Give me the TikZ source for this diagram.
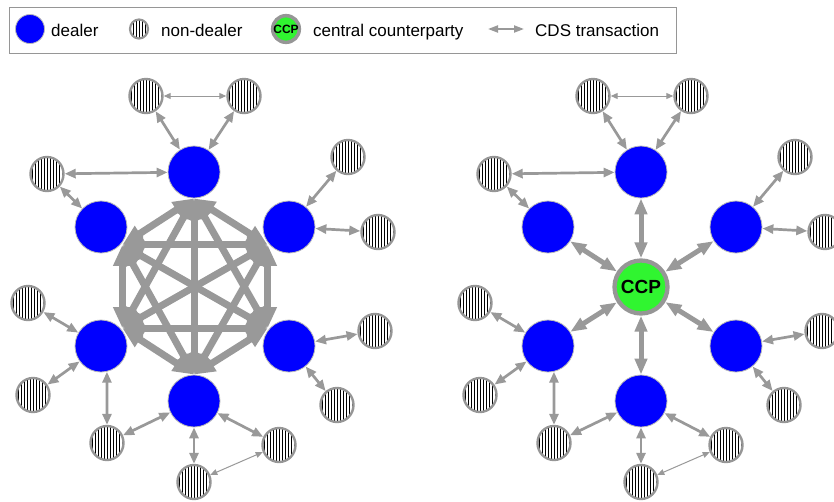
\documentclass[tikz,border=0pt]{standalone}
\usepackage{fontspec}
\setmainfont{Liberation Sans}
\usetikzlibrary{arrows.meta,shapes.geometric,calc}
\pgfdeclarelayer{bg}
\pgfdeclarelayer{paper}
\pgfsetlayers{paper,bg,main}
\definecolor{edgegray}{RGB}{153,153,153}
\definecolor{ringgray}{RGB}{150,150,150}
\definecolor{dealerblue}{RGB}{0,0,255}
\definecolor{ccpgreen}{RGB}{48,245,48}
\tikzset{
  dealer/.style={circle, inner sep=0pt, minimum size=52pt, fill=dealerblue, draw=gray!55, line width=0.8pt},
  nd/.style={ellipse, inner sep=0pt, minimum width=33pt, minimum height=34pt, fill=white, draw=ringgray, line width=2.4pt,
    path picture={\foreach \s in {-21,-18,...,21}
      \draw[black, line width=0.9pt] ($(path picture bounding box.center)+(\s,-25)$) -- ($(path picture bounding box.center)+(\s,25)$);}},
  ccp/.style={circle, inner sep=0pt, minimum size=53pt, fill=ccpgreen, draw=ringgray, line width=4.3pt, text=black,
    font=\bfseries\fontsize{19}{22}\selectfont},
  lbl/.style={anchor=base west, inner sep=0pt, font=\fontsize{17}{20}\selectfont, text=black},
  thinarr/.style={draw=edgegray, line width=1pt, {Triangle[length=7pt,width=6pt]}-{Triangle[length=7pt,width=6pt]}},
  medarr/.style={draw=edgegray, line width=2.7pt, {Triangle[length=11pt,width=9pt]}-{Triangle[length=11pt,width=9pt]}},
  ccparr/.style={draw=edgegray, line width=5pt, {Triangle[length=16pt,width=12pt]}-{Triangle[length=16pt,width=12pt]}},
  bigarr/.style={draw=edgegray, line width=7pt, {Triangle[length=21pt,width=17pt]}-{Triangle[length=21pt,width=17pt]}},
  legarr/.style={draw=edgegray, line width=2pt, {Triangle[length=10pt,width=7pt]}-{Triangle[length=10pt,width=7pt]}},
}
\newcommand\mynet[2]{%
  \begin{scope}[xshift=#2]
    \node[dealer] (#1D1) at (194,172) {};
    \node[dealer] (#1D2) at (101,227) {};
    \node[dealer] (#1D3) at (289,227) {};
    \node[dealer] (#1D4) at (101,346) {};
    \node[dealer] (#1D5) at (289,346) {};
    \node[dealer] (#1D6) at (194,401) {};
    \node[nd] (#1a) at (146,96) {};
    \node[nd] (#1b) at (244,96) {};
    \node[nd] (#1c) at (47,174) {};
    \node[nd] (#1d) at (348,157) {};
    \node[nd] (#1e) at (378,232) {};
    \node[nd] (#1f) at (28,303) {};
    \node[nd] (#1g) at (33,395) {};
    \node[nd] (#1h) at (375,331) {};
    \node[nd] (#1i) at (337,405) {};
    \node[nd] (#1j) at (107,443) {};
    \node[nd] (#1k) at (279,445) {};
    \node[nd] (#1l) at (194,482) {};
  \end{scope}
  \begin{pgfonlayer}{bg}
    \draw[thinarr] (#1a) -- (#1b);
    \draw[thinarr] (#1l) -- (#1k);
    \draw[medarr] (#1a) -- (#1D1);
    \draw[medarr] (#1b) -- (#1D1);
    \draw[medarr] (#1c) -- (#1D1);
    \draw[medarr] (#1c) -- (#1D2);
    \draw[medarr] (#1d) -- (#1D3);
    \draw[medarr] (#1e) -- (#1D3);
    \draw[medarr] (#1f) -- (#1D4);
    \draw[medarr] (#1g) -- (#1D4);
    \draw[medarr] (#1h) -- (#1D5);
    \draw[medarr] (#1i) -- (#1D5);
    \draw[medarr] (#1j.north) -- (#1D4.-77);
    \draw[medarr] (#1j) -- (#1D6);
    \draw[medarr] (#1l) -- (#1D6);
    \draw[medarr] (#1k) -- (#1D6);
  \end{pgfonlayer}
}
\begin{document}
\begin{tikzpicture}[x=1pt, y=-1pt]
  \useasboundingbox (0,0) rectangle (834,501);
  \begin{pgfonlayer}{paper}
    \fill[white] (0,0) rectangle (834,501);
  \end{pgfonlayer}
  % legend
  \draw[draw=ringgray, line width=1pt] (9,7) rectangle (676,53);
  \node[dealer, minimum size=29pt] (ldealer) at (30,29) {};
  \node[lbl] (tdealer) at (51,36) {dealer};
  \node[nd, minimum width=18pt, minimum height=19pt, line width=2.2pt] (lnd) at (139,29) {};
  \node[lbl] (tnd) at (161,36) {non-dealer};
  \node[ccp, minimum size=26.5pt, line width=3.5pt, font=\bfseries\fontsize{12}{13}\selectfont] (lccp) at (286,29) {CCP};
  \node[lbl] (tccp) at (313,36) {central counterparty};
  \coordinate (la1) at (488,29);
  \coordinate (la2) at (524,29);
  \draw[legarr] (la1) -- (la2);
  \node[lbl] (tcds) at (535,36) {CDS transaction};
  % left network
  \mynet{L}{0pt}
  \coordinate (P1) at (LD1.-90);
  \coordinate (P2) at ($(LD2.-40)+(1,1)$);
  \coordinate (P3) at ($(LD3.-140)+(-1,1)$);
  \coordinate (P4) at ($(LD4.40)+(1,-1)$);
  \coordinate (P5) at ($(LD5.140)+(-1,-1)$);
  \coordinate (P6) at (LD6.90);
  \begin{pgfonlayer}{bg}
    \foreach \u/\v in {1/2,1/3,1/4,1/5,1/6,2/3,2/4,2/5,2/6,3/4,3/5,3/6,4/5,4/6,5/6}
      \draw[bigarr] (P\u) -- (P\v);
  \end{pgfonlayer}
  % right network
  \mynet{R}{447pt}
  \node[ccp] (CCP) at (641,287) {CCP};
  \begin{pgfonlayer}{bg}
    \foreach \u in {1,...,6}
      \draw[ccparr] (RD\u) -- (CCP);
  \end{pgfonlayer}
\end{tikzpicture}
\end{document}
